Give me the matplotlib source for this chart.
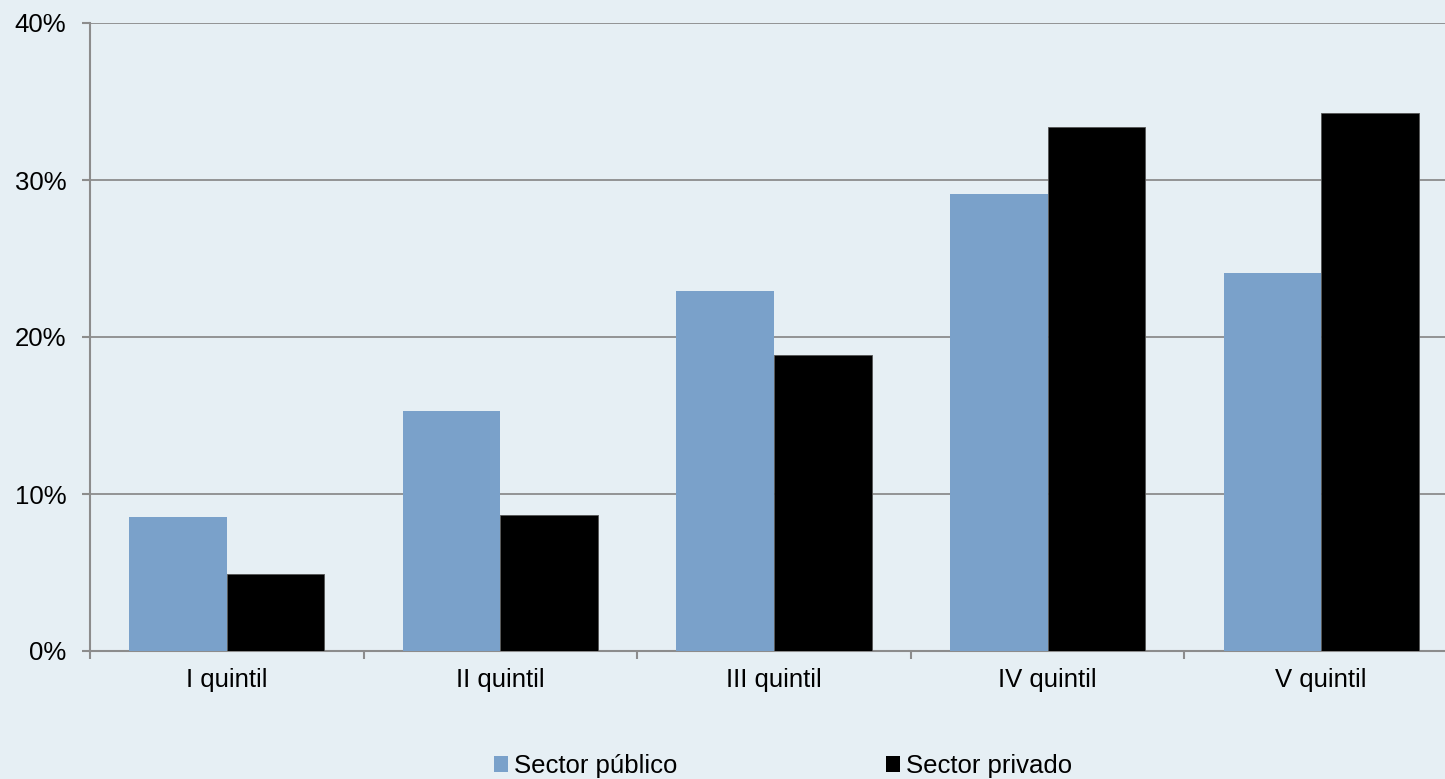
import matplotlib
matplotlib.use("Agg")
import matplotlib.pyplot as plt
import numpy as np
from matplotlib.patches import Patch

categories = ["I quintil", "II quintil", "III quintil", "IV quintil", "V quintil"]
publico = [8.55, 15.3, 22.95, 29.1, 24.1]
privado = [4.92, 8.64, 18.87, 33.36, 34.25]
yticks = [0, 10, 20, 30, 40]
ytick_labels = ["0%", "10%", "20%", "30%", "40%"]
series_names = ["Sector público", "Sector privado"]

plt.rcParams['font.family'] = ['Liberation Sans', 'DejaVu Sans']
bg = '#e6eff4'
blue = '#7aa1ca'
grid = '#8c8c8c'

fig = plt.figure(figsize=(14.45, 7.79), dpi=100, facecolor=bg)
ax = fig.add_axes([90/1445, 128/779, (1458-90)/1445, (651-23)/779])
ax.set_facecolor(bg)

x = np.arange(len(categories))
w = 0.357
ax.bar(x - w/2, publico, width=w, color=blue, zorder=3)
ax.bar(x + w/2, privado, width=w, color='black', edgecolor='#555555', linewidth=0.6, zorder=3)

ax.set_xlim(-0.5, len(categories) - 0.5)
ax.set_ylim(0, 40)
ax.set_yticks(yticks)
ax.set_yticklabels(ytick_labels, fontsize=18.5)
ax.set_xticks(x)
ax.set_xticklabels(categories, fontsize=18.5)
ax.set_xticks(np.arange(len(categories) + 1) - 0.5, minor=True)
ax.tick_params(axis='x', which='major', length=0, pad=12)
ax.tick_params(axis='x', which='minor', length=6, color=grid, width=1.5)
ax.tick_params(axis='y', length=6, color=grid, width=1.5, pad=11)
ax.yaxis.grid(True, color=grid, linewidth=1.3, zorder=1)
for s in ['top', 'right']:
    ax.spines[s].set_visible(False)
for s in ['left', 'bottom']:
    ax.spines[s].set_color(grid)
    ax.spines[s].set_linewidth(1.5)

handles = [Patch(facecolor=blue), Patch(facecolor='black')]
fig.legend(handles, series_names, loc='center', bbox_to_anchor=(783/1445, 1 - 766/779),
           ncol=2, frameon=False, fontsize=18.5, handlelength=0.55, handleheight=0.55,
           handletextpad=0.25, columnspacing=8.1, borderpad=0)

fig.savefig("out.png", dpi=100, facecolor=bg)
